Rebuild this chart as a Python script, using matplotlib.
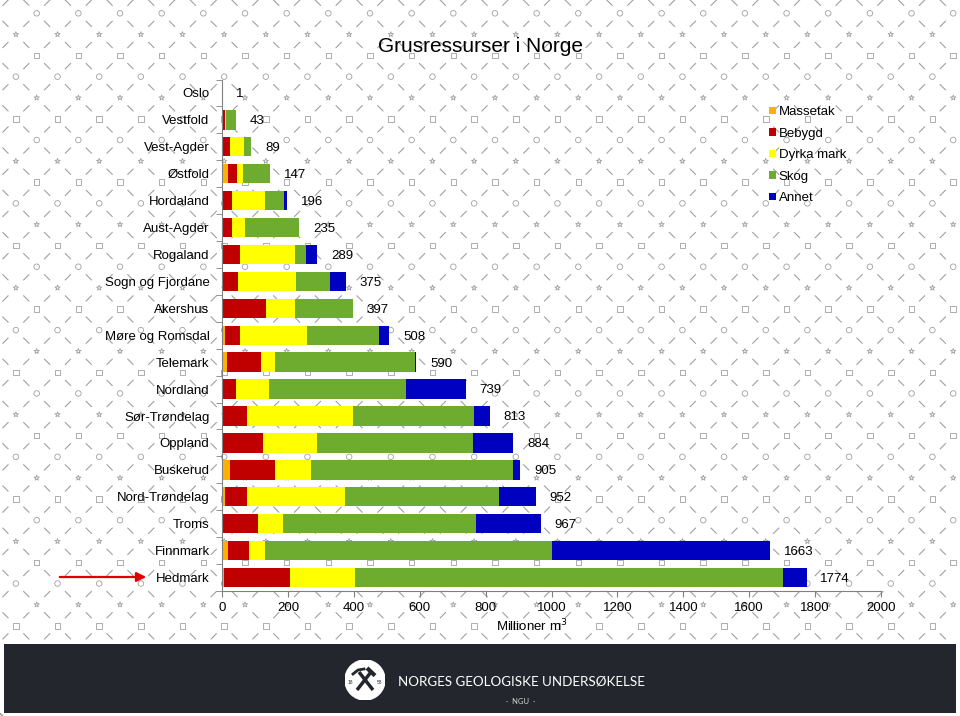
import numpy as np
import matplotlib
matplotlib.use("Agg")
import matplotlib.pyplot as plt
from matplotlib.collections import LineCollection
from matplotlib.patches import Rectangle, Circle, Patch

plt.rcParams['font.family'] = ['Liberation Sans', 'DejaVu Sans']

# data (millioner m3)
regions = ["Oslo", "Vestfold", "Vest-Agder", "Østfold", "Hordaland", "Aust-Agder",
           "Rogaland", "Sogn og Fjordane", "Akershus", "Møre og Romsdal", "Telemark",
           "Nordland", "Sør-Trøndelag", "Oppland", "Buskerud", "Nord-Trøndelag",
           "Troms", "Finnmark", "Hedmark"]
totals = [1, 43, 89, 147, 196, 235, 289, 375, 397, 508, 590, 739, 813, 884, 905,
          952, 967, 1663, 1774]
massetak = [0, 3, 1, 18, 0, 1, 0, 2, 0, 8, 14, 1, 3, 3, 25, 8, 0, 19, 6]
bebygd = [0.5, 5, 23, 27, 30, 30, 56, 46, 133, 46, 103, 43, 74, 120, 135, 68, 110, 64, 200]
dyrka = [0.3, 5, 42, 20, 101, 40, 165, 178, 90, 205, 45, 99, 322, 165, 109, 297, 75, 46, 197]
skog = [0.2, 30, 23, 82, 57, 164, 33, 102, 174, 216, 425, 414, 366, 474, 615, 468, 587, 872, 1300]
annet = [0, 0, 0, 0, 8, 0, 35, 47, 0, 33, 3, 182, 48, 122, 21, 111, 195, 662, 71]

series = ["Massetak", "Bebygd", "Dyrka mark", "Skog", "Annet"]
colors = ["#FFB000", "#C00000", "#FFFF00", "#6EAC2F", "#0000C0"]

fig = plt.figure(figsize=(9.6, 7.16), dpi=100)

# background: watermark pattern + footer band (pixel coordinates)
bg = fig.add_axes([0, 0, 1, 1], zorder=0)
bg.set_xlim(0, 960)
bg.set_ylim(716, 0)
bg.axis('off')

dx, dy = 20.83, 21.12
x0, y0 = 36.7, 13.3
segs = []
cx, cy, kinds = [], [], []
for v in range(-1, 31):
    for u in range(-3, 46):
        x = x0 + u * dx
        y = y0 + v * dy
        if (u + v) % 2 == 0:
            if 0 < y < 640:
                cx.append(x)
                cy.append(y)
                kinds.append((u * 3 + v * 5) % 6)
        mx, my = x + dx / 2, y + dy / 2
        if my > 638:
            continue
        if (u + v) % 2 == 0:
            segs.append([(mx - 3, my - 3), (mx + 3, my + 3)])
        else:
            segs.append([(mx + 3, my - 3), (mx - 3, my + 3)])
pat = "#a0a0a0"
bg.add_collection(LineCollection(segs, colors=pat, linewidths=0.8))
cx, cy, kinds = np.array(cx), np.array(cy), np.array(kinds)
for k, m in enumerate(['o', '^', '*', 'D', 's', 'p']):
    sel = kinds == k
    bg.scatter(cx[sel], cy[sel], s=16 if m != 'D' else 8, marker=m,
               facecolors='none', edgecolors=pat, linewidths=0.6)

bg.add_patch(Rectangle((4, 644), 952, 69, facecolor="#23272D", edgecolor="none"))
bg.text(521, 681, "NORGES GEOLOGISKE UNDERSØKELSE", color="white",
        fontsize=9.6, family="Lato", ha="center", va="center")
bg.text(521, 702, "·  NGU  ·", color="#cfcfcf", fontsize=5.5, family="Lato",
        ha="center", va="center")

# logo
logo = fig.add_axes([345 / 960, 1 - 700 / 716, 40 / 960, 40 / 716], zorder=2)
logo.set_xlim(-1, 1)
logo.set_ylim(-1, 1)
logo.axis('off')
logo.add_patch(Circle((0, 0), 1, color="white"))
logo.plot([-0.4, 0.3], [-0.5, 0.4], color="#23272D", lw=2.5, solid_capstyle='butt')
logo.plot([0.1, 0.5], [0.6, 0.22], color="#23272D", lw=3, solid_capstyle='butt')
logo.plot([0.4, -0.3], [-0.5, 0.4], color="#23272D", lw=2.5, solid_capstyle='butt')
logo.plot([-0.6, -0.35, -0.05], [0.3, 0.5, 0.55], color="#23272D", lw=2)
logo.text(-0.72, -0.1, "18", fontsize=3.5, color="#23272D", ha="center", va="center")
logo.text(0.72, -0.1, "58", fontsize=3.5, color="#23272D", ha="center", va="center")

# main chart
ax = fig.add_axes([222 / 960, 1 - 591 / 716, 659 / 960, 511.5 / 716], zorder=1)
ax.patch.set_alpha(0)

y = np.arange(len(regions))
left = np.zeros(len(regions))
for name, vals, col in zip(series, [massetak, bebygd, dyrka, skog, annet], colors):
    vals = np.array(vals, dtype=float)
    ax.barh(y, vals, left=left, height=0.72, color=col, label=name)
    left += vals

for yi, tot in zip(y, totals):
    ax.annotate(str(tot), (tot, yi), xytext=(10, -1), textcoords='offset points',
                va='center', ha='left', fontsize=9.5)

ax.set_xlim(0, 2000)
ax.set_ylim(len(regions) - 0.5, -0.5)
ax.set_xticks(np.arange(0, 2001, 200))
ax.set_yticks(y)
ax.set_yticklabels(regions)
ax.set_yticks(np.arange(len(regions) + 1) - 0.5, minor=True)
ax.tick_params(axis='y', which='major', length=0, pad=9, labelsize=9.5)
ax.tick_params(axis='y', which='minor', length=4, color="#808080")
ax.tick_params(axis='x', length=4, pad=4, labelsize=9.5, color="#808080")
for s in ['top', 'right']:
    ax.spines[s].set_visible(False)
for s in ['left', 'bottom']:
    ax.spines[s].set_color("#808080")

handles = [Patch(facecolor=c, edgecolor='none') for c in colors]
fig.legend(handles, series, loc='upper left', bbox_to_anchor=(764 / 960, 1 - 101 / 716),
           frameon=False, fontsize=9.5, handlelength=0.5, handleheight=0.5,
           handletextpad=0.2, labelspacing=0.72, borderaxespad=0)

fig.text(480 / 960, 1 - 47 / 716, "Grusressurser i Norge", fontsize=15,
         ha='center', va='center')
fig.text(532 / 960, 1 - 626 / 716, "Millioner m$^3$", fontsize=9.5,
         ha='center', va='center')

# red arrow to Hedmark
bg.annotate("", xy=(149, 577), xytext=(57, 577),
            arrowprops=dict(arrowstyle='-|>', color="#E00000", lw=1.6,
                            mutation_scale=14))

fig.savefig("out.png", dpi=100)
